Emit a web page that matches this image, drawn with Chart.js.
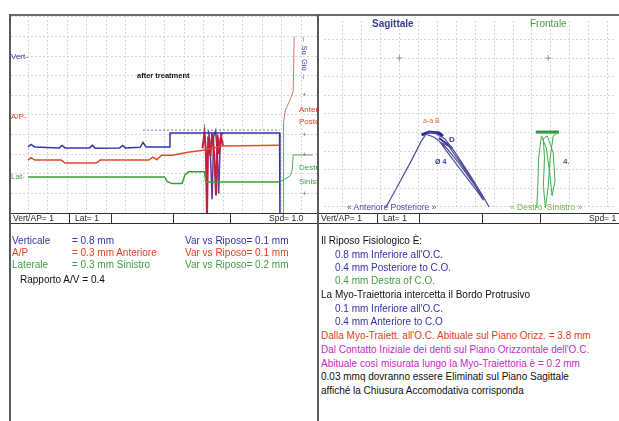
<!DOCTYPE html>
<html lang="it">
<head>
<meta charset="UTF-8">
<title>Kinesiografia - after treatment</title>
<script src="https://cdn.jsdelivr.net/npm/chart.js"></script>
<style>
  body { margin: 0; background: #fff; overflow: hidden; font-family: "Liberation Sans", Arial, sans-serif; }
  #page { position: relative; width: 619px; height: 421px; overflow: hidden; }
  .abs { position: absolute; white-space: nowrap; line-height: 1; }
  .line { position: absolute; background: #5a5a5a; }
  canvas { position: absolute; }
  .txt { font-size: 10px; }
  .blue { color: #3333aa; }
  .red { color: #e2401e; }
  .green { color: #3f9f3f; }
  .mag { color: #c22cc2; }
  .blk { color: #111; }
  .bar { position: absolute; top: 213px; height: 9px; border-top: 1px solid #333; border-bottom: 1px solid #333; font-size: 8.5px; color: #222; }
  .bar span { position: absolute; top: 0; line-height: 9px; }
  .bar i { position: absolute; top: 0; width: 1px; height: 9px; background: #333; }
  .clip { position: absolute; overflow: hidden; }
</style>
</head>
<body>
<div id="page">
  <canvas id="traces" width="306" height="197" style="left:11px;top:16px"></canvas>
  <canvas id="planes" width="300" height="197" style="left:319px;top:16px"></canvas>

  <!-- frame -->
  <div class="line" style="left:9px;top:14px;width:610px;height:2px;background:#6a6a6a"></div>
  <div class="line" style="left:9px;top:14px;width:2px;height:407px"></div>
  <div class="line" style="left:317px;top:14px;width:2px;height:407px"></div>

  <!-- left panel labels -->
  <div class="abs blue" style="left:11px;top:53px;font-size:8px">Vert-</div>
  <div class="abs red" style="left:11px;top:113px;font-size:8px">A/P-</div>
  <div class="abs green" style="left:11px;top:173px;font-size:8px">Lat-</div>
  <div class="abs blk" style="left:137px;top:72px;font-size:7.5px;font-weight:bold">after treatment</div>
  <div class="clip" style="left:290px;top:16px;width:27px;height:197px">
    <div class="abs blue" style="left:18px;top:20px;font-size:7.5px;transform:rotate(90deg);transform-origin:0 0">&#8592; Su &nbsp;Gi&ugrave; &#8594;</div>
    <div class="abs" style="left:12px;top:75px;font-size:8px;color:#777">+</div>
    <div class="abs red" style="left:9px;top:90px;font-size:8px">Anteriore</div>
    <div class="abs red" style="left:9px;top:102px;font-size:8px">Posteriore</div>
    <div class="abs" style="left:12px;top:115px;font-size:8px;color:#777">+</div>
    <div class="abs" style="left:12px;top:135px;font-size:8px;color:#777">+</div>
    <div class="abs green" style="left:9px;top:148px;font-size:8px">Destro</div>
    <div class="abs green" style="left:9px;top:162px;font-size:8px">Sinistro</div>
    <div class="abs" style="left:12px;top:174px;font-size:8px;color:#777">+</div>
  </div>

  <!-- right panel labels -->
  <div class="abs" style="left:372px;top:19px;font-size:10px;font-weight:bold;color:#3c3c9c">Sagittale</div>
  <div class="abs" style="left:530px;top:19px;font-size:10px;color:#4aa04a">Frontale</div>
  <div class="abs" style="left:423px;top:117px;font-size:7px;color:#e06a3a">a-a B</div>
  <div class="abs blue" style="left:449px;top:136px;font-size:8px;font-weight:bold">D</div>
  <div class="abs blue" style="left:435px;top:158px;font-size:7px;font-weight:bold">&Oslash; 4</div>
  <div class="abs blk" style="left:563px;top:158px;font-size:8px">4.</div>
  <div class="abs" style="left:347px;top:203px;font-size:8.5px;color:#4a4ab0">&laquo; Anteriore Posteriore &raquo;</div>
  <div class="abs" style="left:510px;top:203px;font-size:8.5px;color:#7ab04a">&laquo; Destro&nbsp; Sinistro &raquo;</div>

  <!-- status bars -->
  <div class="bar" style="left:11px;width:306px">
    <span style="left:2px">Vert/AP= 1</span><i style="left:58px"></i>
    <span style="left:64px">Lat= 1</span><i style="left:100px"></i>
    <i style="left:162px"></i><i style="left:219px"></i>
    <span style="left:258px">Spd= 1.0</span>
  </div>
  <div class="bar" style="left:319px;width:300px">
    <span style="left:2px">Vert/AP= 1</span><i style="left:58px"></i>
    <span style="left:64px">Lat= 1</span><i style="left:100px"></i>
    <i style="left:163px"></i><i style="left:221px"></i>
    <span style="left:270px">Spd= 1</span>
  </div>

  <!-- left readout -->
  <div class="abs txt blue" style="left:12px;top:236px">Verticale</div>
  <div class="abs txt blue" style="left:72px;top:236px">= 0.8 mm</div>
  <div class="abs txt blue" style="left:185px;top:236px">Var vs Riposo= 0.1 mm</div>
  <div class="abs txt red" style="left:12px;top:248px">A/P</div>
  <div class="abs txt red" style="left:72px;top:248px">= 0.3 mm Anteriore</div>
  <div class="abs txt red" style="left:185px;top:248px">Var vs Riposo= 0.1 mm</div>
  <div class="abs txt green" style="left:12px;top:260px">Laterale</div>
  <div class="abs txt green" style="left:72px;top:260px">= 0.3 mm Sinistro</div>
  <div class="abs txt green" style="left:185px;top:260px">Var vs Riposo= 0.2 mm</div>
  <div class="abs txt blk" style="left:20px;top:275px">Rapporto A/V = 0.4</div>

  <!-- right readout -->
  <div class="abs txt blk" style="left:321px;top:236px">Il Riposo Fisiologico &Egrave;:</div>
  <div class="abs txt blue" style="left:335px;top:250px">0.8 mm Inferiore all'O.C.</div>
  <div class="abs txt blue" style="left:335px;top:263px">0.4 mm Posteriore to C.O.</div>
  <div class="abs txt green" style="left:335px;top:276px">0.4 mm Destra of C.O.</div>
  <div class="abs txt blk" style="left:321px;top:290px">La Myo-Traiettoria intercetta il Bordo Protrusivo</div>
  <div class="abs txt blue" style="left:335px;top:304px">0.1 mm Inferiore all'O.C.</div>
  <div class="abs txt blue" style="left:335px;top:317px">0.4 mm Anteriore to C.O</div>
  <div class="abs txt red" style="left:321px;top:331px">Dalla Myo-Traiett. all'O.C. Abituale sul Piano Orizz. = 3.8 mm</div>
  <div class="abs txt mag" style="left:321px;top:345px">Dal Contatto Iniziale dei denti sul Piano Orizzontale dell'O.C.</div>
  <div class="abs txt mag" style="left:321px;top:359px">Abituale cos&igrave; misurata lungo la Myo-Traiettoria &egrave; = 0.2 mm</div>
  <div class="abs txt blk" style="left:321px;top:372px">0.03 mmq dovranno essere Eliminati sul Piano Sagittale</div>
  <div class="abs txt blk" style="left:321px;top:386px">affich&eacute; la Chiusura Accomodativa corrisponda</div>
</div>

<script>
// left panel: time in seconds, amplitude in channel units
var secGrid = [0, 1, 2, 3, 4, 5, 6, 7, 8, 9, 10, 11, 12, 13, 14];
var ampGrid = [1, 2, 3, 4, 5, 6, 7, 8, 9, 10];

var vertTrace = [[0,3.37],[0.15,3.5],[0.35,3.37],[1.6,3.32],[1.75,3.45],[1.9,3.32],[3.15,3.32],[3.3,3.45],[3.45,3.3],
  [4.7,3.32],[4.85,3.45],[5.0,3.32],[5.75,3.35],[5.9,3.6],[6.05,3.37],[7.25,3.37],[7.28,4.08],[12.9,4.08],[12.92,-0.2]];
var apTrace = [[0,2.7],[0.15,2.82],[0.35,2.7],[1.7,2.7],[1.9,2.55],[3.5,2.55],[3.7,2.7],[6.2,2.7],[6.4,2.85],[6.6,2.72],
  [6.85,2.95],[7.4,2.95],[8.2,3.1],[9.0,3.2],[9.95,3.42],[12.9,3.45]];
var latTrace = [[0,1.84],[7.0,1.84],[7.15,1.6],[7.4,1.5],[7.9,1.5],[8.05,1.95],[8.25,2.1],[9.05,2.1],[9.12,1.58],[12.9,1.58]];
var latTail = [[12.95,1.6],[13.45,1.9],[13.55,2.2],[13.6,2.96],[14.6,2.96]];
var riseTrace = [[13.08,-0.2],[13.1,4.6],[13.2,5.25],[13.45,5.8],[13.6,6.2],[13.65,9.0]];
var restLevel = [[5.9,4.23],[12.9,4.23]];
var burstBlue = [[9.25,4.2],[9.33,3.6],[9.44,0.7],[9.52,3.9],[9.62,4.2],[9.7,3.2],[9.78,1.0],[9.86,3.8],[9.98,4.1]];
var burstRed = [[8.95,3.3],[9.05,4.1],[9.12,3.2],[9.18,-0.2],[9.24,3.9],[9.35,2.9],[9.45,4.1],[9.55,3.0],[9.64,0.9],
  [9.72,4.0],[9.8,3.0],[9.9,3.9],[10.0,3.45]];

// right panel: mm from the occlusion point
var mmGrid = [-3, -2, -1, 0, 1, 2, 3, 4, 5, 6, 7, 8, 9, 10, 11];
var mmGridY = [-8, -7, -6, -5, -4, -3, -2, -1, 0, 1];
var sagTrace = [[-0.87,-8.32],[-0.10,-6.89],[0.66,-5.46],[1.17,-4.44],[1.38,-4.13],[1.58,-3.98],[1.89,-4.03],[2.09,-4.18],
  [2.40,-4.34],[2.96,-5.10],[3.72,-6.28],[4.34,-7.30],[4.74,-8.01],[4.54,-7.65],[3.83,-6.63],[3.11,-5.61],[2.50,-4.85],
  [2.19,-4.54],[2.60,-4.74],[3.32,-5.77],[4.03,-6.89],[4.44,-7.65],[4.13,-7.19],[3.21,-5.97],[2.60,-5.15],[2.09,-4.44],
  [1.79,-4.23],[1.48,-4.13]];
var sagPeak = [[1.17,-4.13],[1.58,-3.98],[2.09,-4.03],[2.3,-4.2]];
var sagPeak2 = [[2.09,-4.3],[2.8,-4.85]];
var frontTrace = [[-0.66,-3.98],[0.56,-3.98],[0.26,-4.18],[0.10,-5.36],[0,-6.89],[-0.15,-8.06],[-0.26,-6.89],[-0.20,-5.36],
  [-0.26,-4.34],[-0.05,-4.18],[0.26,-5.10],[0.36,-6.63],[0.20,-7.40],[0.10,-6.38],[-0.10,-4.85],[-0.36,-4.18],
  [-0.51,-5.36],[-0.56,-7.14],[-0.61,-8.06]];
var frontPeak = [[-0.66,-3.98],[0.56,-3.98]];
var origin = [[0,0]];

function pts(a) { return a.map(function (p) { return { x: p[0], y: p[1] }; }); }

function trace(data, color, width, extra) {
  var d = { data: pts(data), borderColor: color, backgroundColor: color, borderWidth: width,
    showLine: true, pointRadius: 0, tension: 0, fill: false };
  for (var k in extra) d[k] = extra[k];
  return d;
}

function axis(min, max, grid, show) {
  return {
    type: 'linear', min: min, max: max, display: show,
    ticks: { display: false },
    grid: { color: '#d6d6d6', drawTicks: false, lineWidth: 1 },
    border: { display: false, dash: [2, 2] },
    afterBuildTicks: function (s) { s.ticks = grid.map(function (v) { return { value: v }; }); },
    afterFit: function (s) { if (s.isHorizontal()) s.height = 0; else s.width = 0; }
  };
}

var common = {
  responsive: false, animation: false,
  layout: { padding: 0 },
  plugins: { legend: { display: false }, tooltip: { enabled: false } }
};

new Chart(document.getElementById('traces'), {
  type: 'scatter',
  data: {
    datasets: [
      trace(restLevel, '#6a74aa', 1, { borderDash: [2, 2] }),
      trace(latTrace, '#3c9c3c', 1.5),
      trace(latTail, '#5aa85a', 1),
      trace(apTrace, '#e24a2c', 1.5),
      trace(vertTrace, '#3236a8', 1.5),
      trace(riseTrace, '#d4756a', 1),
      trace(burstRed, '#c0203c', 2),
      trace(burstBlue, '#5a3aa0', 1.5)
    ]
  },
  options: Object.assign({}, common, {
    scales: {
      x: axis(-0.872, 14.82, secGrid, true),
      y: axis(0, 10.05, ampGrid, true)
    }
  })
});

new Chart(document.getElementById('planes'), {
  type: 'scatter',
  data: {
    datasets: [
      trace(sagTrace, '#50529a', 1.2),
      trace(sagPeak, '#2a2c98', 3),
      trace(sagPeak2, '#2a2c98', 2),
      trace(frontTrace, '#3fae4f', 1, { xAxisID: 'xf' }),
      trace(frontPeak, '#1e8c36', 3, { xAxisID: 'xf' }),
      trace(origin, '#999', 1, { showLine: false, pointStyle: 'cross', pointRadius: 3 }),
      trace(origin, '#999', 1, { showLine: false, pointStyle: 'cross', pointRadius: 3, xAxisID: 'xf' })
    ]
  },
  options: Object.assign({}, common, {
    scales: {
      x: axis(-3.98, 11.33, mmGrid, true),
      xf: axis(-11.84, 3.47, [], false),
      y: axis(-8.06, 1.99, mmGridY, true)
    }
  })
});
</script>
</body>
</html>
